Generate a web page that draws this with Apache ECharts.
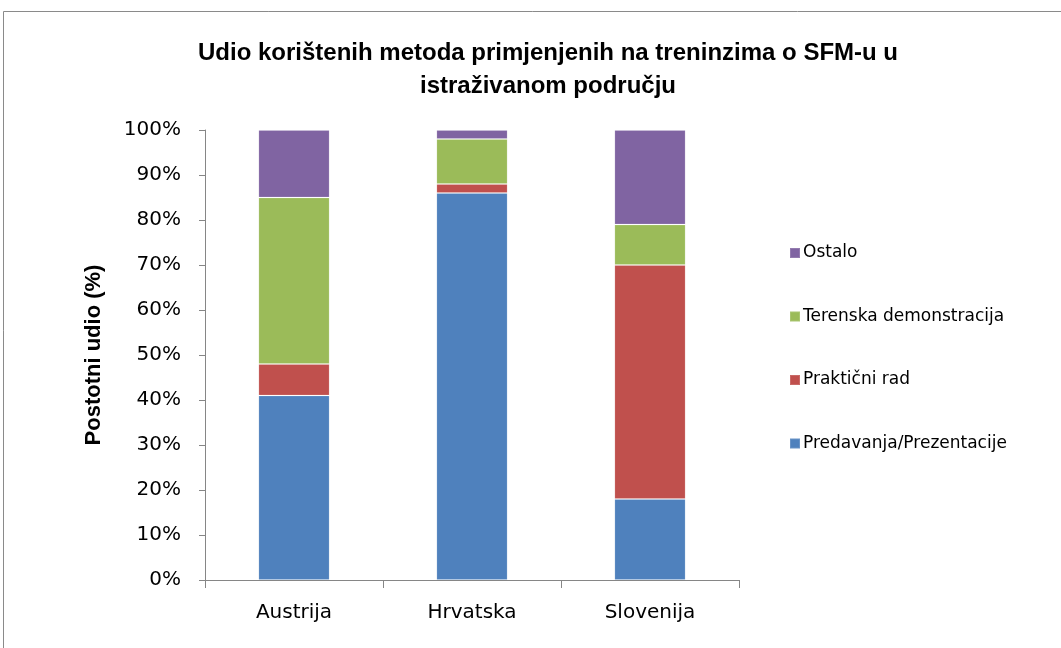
<!DOCTYPE html>
<html>
<head>
<meta charset="utf-8">
<script src="https://cdn.jsdelivr.net/npm/echarts@6/dist/echarts.min.js"></script>
<style>
html,body{margin:0;padding:0;background:#fff;}
#chart{width:1061px;height:648px;}
</style>
</head>
<body>
<div id="chart"></div>
<script>
const categories = ['Austrija', 'Hrvatska', 'Slovenija'];
const predavanja = [41, 86, 18];
const prakticni = [7, 2, 52];
const terenska = [37, 10, 9];
const ostalo = [15, 2, 21];
const yTicks = [0, 10, 20, 30, 40, 50, 60, 70, 80, 90, 100];

const titleText = 'Udio korištenih metoda primjenjenih na treninzima o SFM-u u\nistraživanom području';
const axisColor = '#868686';
const labelFont = 'DejaVu Sans';

const chart = echarts.init(document.getElementById('chart'), null, {renderer: 'canvas'});
function bar(name, data, color) {
  return {
    name: name, type: 'bar', stack: 'total', data: data, barWidth: '40%',
    itemStyle: {color: color, borderColor: 'rgba(255,255,255,0.15)', borderWidth: 1},
    emphasis: {disabled: true}
  };
}
chart.setOption({
  animation: false,
  backgroundColor: '#fff',
  graphic: [{
    type: 'rect', shape: {x: 3.5, y: 11.5, width: 1100, height: 700},
    style: {fill: 'none', stroke: '#8a8a8a', lineWidth: 1}, silent: true
  }],
  title: {
    text: titleText, left: 543, top: 32, textAlign: 'center',
    textStyle: {fontFamily: 'Liberation Sans', fontWeight: 'bold', fontSize: 24, lineHeight: 33, color: '#000'}
  },
  legend: {
    orient: 'vertical', left: 784, top: 238,
    data: ['Ostalo', 'Terenska demonstracija', 'Praktični rad', 'Predavanja/Prezentacije'],
    itemWidth: 10, itemHeight: 10, itemGap: 43.5, icon: 'rect',
    textStyle: {fontFamily: labelFont, fontSize: 17, lineHeight: 20, color: '#000', padding: [0, 0, 0, -2]}
  },
  grid: {left: 205, right: 322, top: 130, bottom: 68, containLabel: false},
  xAxis: {
    type: 'category', data: categories,
    axisLine: {lineStyle: {color: axisColor, width: 1}},
    axisTick: {show: true, length: 8, lineStyle: {color: axisColor}},
    axisLabel: {fontFamily: labelFont, fontSize: 20, color: '#000', margin: 23}
  },
  yAxis: {
    type: 'value', min: 0, max: 100, interval: 10,
    name: 'Postotni udio (%)', nameLocation: 'middle', nameGap: 100, nameRotate: 90,
    nameTextStyle: {fontFamily: 'Liberation Sans', fontWeight: 'bold', fontSize: 22, color: '#000'},
    axisLine: {show: true, lineStyle: {color: axisColor, width: 1}},
    axisTick: {show: true, length: 6, lineStyle: {color: axisColor}},
    splitLine: {show: false},
    axisLabel: {
      fontFamily: labelFont, fontSize: 20, color: '#000', margin: 24,
      customValues: yTicks,
      formatter: v => v + '%'
    }
  },
  series: [
    bar('Predavanja/Prezentacije', predavanja, '#4F81BD'),
    bar('Praktični rad', prakticni, '#C0504D'),
    bar('Terenska demonstracija', terenska, '#9BBB59'),
    bar('Ostalo', ostalo, '#8064A2')
  ]
});
</script>
</body>
</html>
